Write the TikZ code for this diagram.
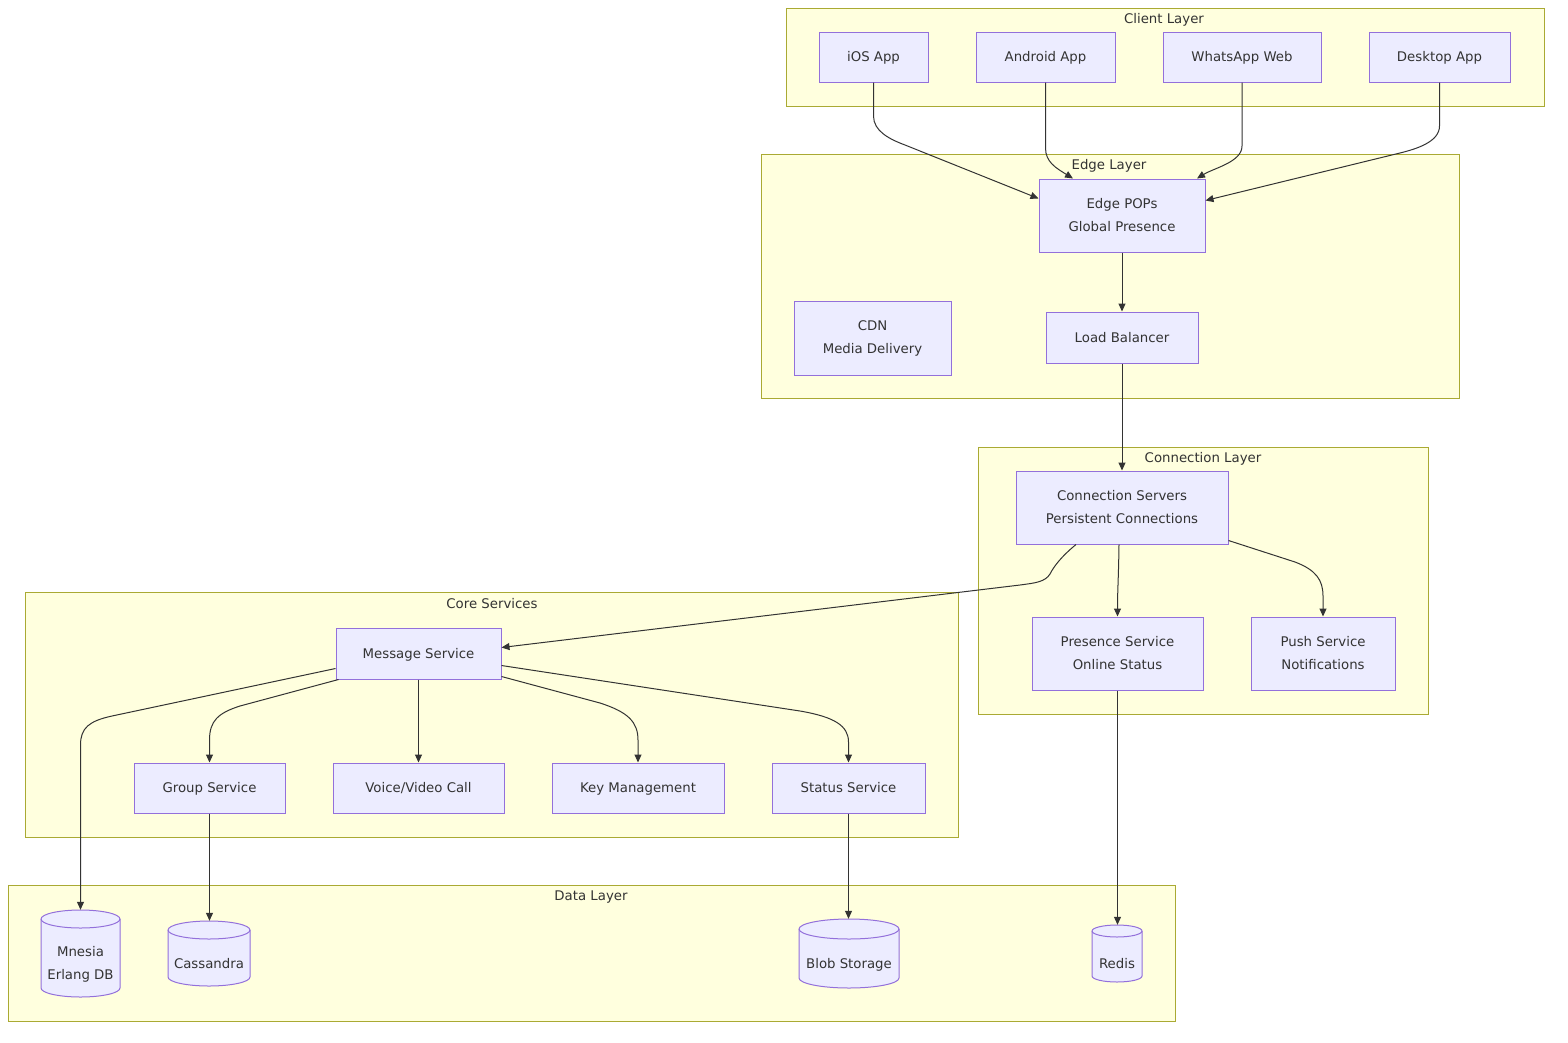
\documentclass[tikz,border=0pt]{standalone}
\usepackage{fontspec}
\setmainfont{DejaVu Sans}
\usetikzlibrary{arrows.meta}
\definecolor{clfill}{HTML}{FFFFDE}
\definecolor{clline}{HTML}{AAAA33}
\definecolor{ndfill}{HTML}{ECECFF}
\definecolor{ndline}{HTML}{9370DB}
\definecolor{txt}{HTML}{333333}
\definecolor{edgec}{HTML}{333333}
\newcommand\dbcyl[5]{%
  \filldraw[cylstyle] (#1,#3+#5) -- (#1,#4-#5) arc[start angle=180,end angle=0,x radius={(#2-#1)/2},y radius=#5] -- (#2,#3+#5) arc[start angle=0,end angle=-180,x radius={(#2-#1)/2},y radius=#5] -- cycle;
  \draw[cylstyle,fill=none] (#1,#3+#5) arc[start angle=180,end angle=0,x radius={(#2-#1)/2},y radius=#5];
}
\tikzset{
  cluster/.style={draw=clline, fill=clfill, line width=1pt, rectangle, inner sep=0pt},
  oneline/.style={text height=11pt, text depth=1.3pt},
  ctitle/.style={text=txt, inner sep=0pt, anchor=center, oneline},
  box/.style={draw=ndline, fill=ndfill, line width=1pt, rectangle, inner sep=0pt, text=txt, align=center},
  box1/.style={box, oneline},
  cylstyle/.style={draw=ndline, fill=ndfill, line width=1pt},
  cylnode/.style={draw=none, inner sep=0pt, rectangle},
  cyltext/.style={text=txt, align=center, inner sep=0pt},
  arr/.style={draw=edgec, line width=1pt, -{Triangle[length=8pt,width=7pt]}},
}
\begin{document}
\begin{tikzpicture}[x=1pt,y=-1pt,font=\fontsize{13.3}{23}\selectfont]
\useasboundingbox (0,0) rectangle (1568,1042);
\fill[white] (0,0) rectangle (1568,1042);

% clusters
\node[cluster, minimum width=758, minimum height=98] (clientL) at (1165,57) {};
\node[ctitle] (clientT) at (1164,19) {Client Layer};
\node[cluster, minimum width=698, minimum height=244] (edgeL) at (1110,276) {};
\node[cluster, minimum width=450, minimum height=267] (connL) at (1203,580.5) {};
\node[ctitle] (connT) at (1203,458) {Connection Layer};
\node[cluster, minimum width=933, minimum height=245] (coreL) at (491.5,714.5) {};
\node[ctitle] (coreT) at (492,604) {Core Services};
\node[cluster, minimum width=1167, minimum height=136] (dataL) at (591.5,953) {};
\node[ctitle] (dataT) at (591,896) {Data Layer};

% nodes
\node[box1, minimum width=109, minimum height=50] (ios) at (873.5,57) {iOS App};
\node[box1, minimum width=139, minimum height=50] (android) at (1045.5,57) {Android App};
\node[box1, minimum width=158, minimum height=50] (web) at (1242,57) {WhatsApp Web};
\node[box1, minimum width=141, minimum height=50] (desktop) at (1439.5,57) {Desktop App};
\node[box, minimum width=166, minimum height=73] (edge) at (1122,215.5) {Edge POPs\\Global Presence};
\node[box, minimum width=157, minimum height=74] (cdn) at (872.5,338) {CDN\\Media Delivery};
\node[box1, minimum width=152, minimum height=51] (lb) at (1122,337.5) {Load Balancer};
\node[box, minimum width=212, minimum height=73] (conn) at (1122,507.5) {Connection Servers\\Persistent Connections};
\node[box, minimum width=171, minimum height=73] (presence) at (1117.5,653.5) {Presence Service\\Online Status};
\node[box, minimum width=144, minimum height=73] (push) at (1323,653.5) {Push Service\\Notifications};
\node[box1, minimum width=165, minimum height=51] (msg) at (418.5,653.5) {Message Service};
\node[box1, minimum width=151, minimum height=50] (group) at (209.5,788) {Group Service};
\node[box1, minimum width=171, minimum height=50] (voice) at (418.5,788) {Voice/Video Call};
\node[box1, minimum width=172, minimum height=50] (key) at (638,788) {Key Management};
\node[box1, minimum width=153, minimum height=50] (status) at (848.5,788) {Status Service};

% cylinders
\dbcyl{41}{120}{910}{997}{9}
\node[cylnode, minimum width=79, minimum height=87] (mnesia) at (80.5,953.5) {};
\node[cyltext] (mnesiaT) at (80.5,964) {Mnesia\\Erlang DB};
\dbcyl{168}{250}{921}{986}{9}
\node[cylnode, minimum width=82, minimum height=65] (cass) at (209,953.5) {};
\node[cyltext, oneline] (cassT) at (209,963.5) {Cassandra};
\dbcyl{799}{899}{919}{988}{10}
\node[cylnode, minimum width=100, minimum height=69] (blob) at (849,953.5) {};
\node[cyltext, oneline] (blobT) at (849,963.5) {Blob Storage};
\dbcyl{1092}{1142}{925}{982}{6}
\node[cylnode, minimum width=50, minimum height=57] (redis) at (1117,953.5) {};
\node[cyltext, oneline] (redisT) at (1117,963.5) {Redis};

% connectors
\draw[arr] (ios.south) -- (873.5,116) .. controls (873.5,131) and (889,139) .. (905,145) -- ([yshift=17pt]edge.west);
\draw[arr] (android.south) -- (1045.5,148) .. controls (1045.5,162) and (1056,168) .. ([xshift=-49pt]edge.north);
\draw[arr] (web.south) -- (1242,146) .. controls (1242,162) and (1214,168) .. ([xshift=75pt]edge.north);
\draw[arr] (desktop.south) -- (1439.5,126) .. controls (1439.5,142) and (1416,149) .. (1400,153) -- ([yshift=15pt]edge.east);
\node[ctitle] (edgeT) at (1109,165) {Edge Layer};
\draw[arr] (edge.south) -- (lb.north);
\draw[arr] (lb.south) -- (conn.north);
\draw[arr] ([xshift=-46pt]conn.south) .. controls (1062,556) and (1054,566) .. (1050,574) .. controls (1045,582) and (1035,583) .. (1020,585) -- ([yshift=6pt]msg.east);
\draw[arr] ([xshift=-3pt]conn.south) .. controls (1118.5,580) and (1117.5,590) .. (presence.north);
\draw[arr] ([yshift=-33pt]conn.east) -- (1295,562) .. controls (1316,570) and (1323,580) .. (1323,596) -- (push.north);
\draw[arr] ([yshift=-15pt]msg.west) -- (112,716) .. controls (89,721) and (80.5,728) .. (80.5,745) -- (mnesia.north);
\draw[arr] ([xshift=-80pt]msg.south) -- (240,706) .. controls (218,713) and (209.5,721) .. (209.5,740) -- (group.north);
\draw[arr] (msg.south) -- (voice.north);
\draw[arr] ([yshift=-23pt]msg.east) -- (600,703) .. controls (628,712) and (638,722) .. (638,740) -- (key.north);
\draw[arr] ([yshift=-12pt]msg.east) -- (800,711) .. controls (835,717) and (848.5,726) .. (848.5,742) -- (status.north);
\draw[arr] (group.south) -- (group.south |- cass.north);
\draw[arr] (status.south) -- (status.south |- blob.north);
\draw[arr] (presence.south) -- (presence.south |- redis.north);
\end{tikzpicture}
\end{document}
